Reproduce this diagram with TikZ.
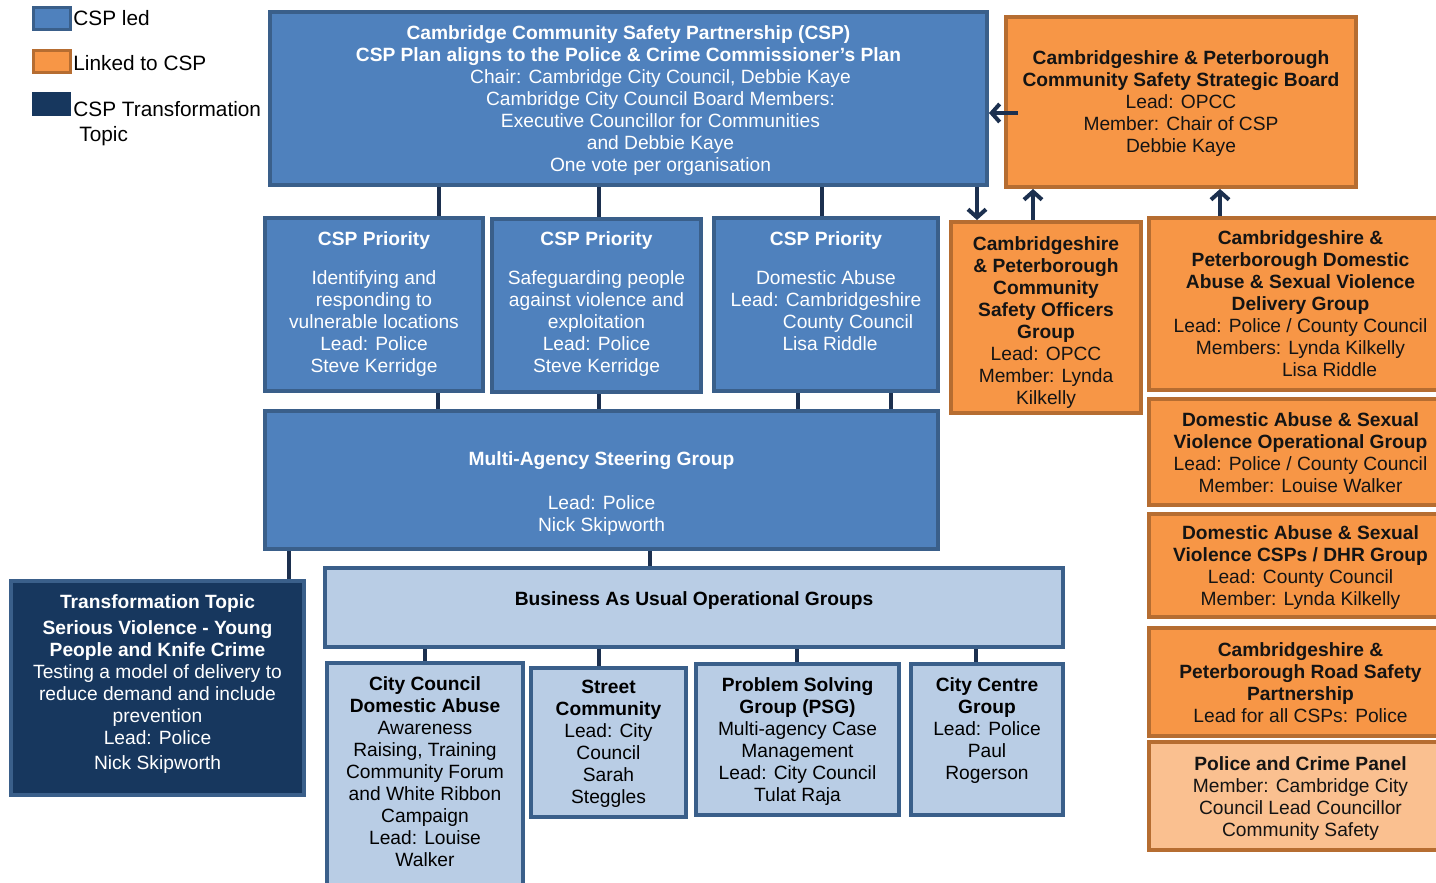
\documentclass[tikz,border=0pt]{standalone}
\usepackage{fontspec}
\setmainfont{Liberation Sans}
\usetikzlibrary{fit,arrows.meta}
\definecolor{cblue}{HTML}{4F81BD}
\definecolor{cbborder}{HTML}{3A5F8A}
\definecolor{corange}{HTML}{F79646}
\definecolor{coborder}{HTML}{B66D31}
\definecolor{clorange}{HTML}{FAC090}
\definecolor{cnavy}{HTML}{17375E}
\definecolor{clblue}{HTML}{B9CDE5}
\definecolor{cline}{HTML}{1C304F}
\definecolor{ctext}{HTML}{141414}
\begin{document}
\begin{tikzpicture}[x=0.5pt,y=-0.5pt,
  box/.style={draw, line width=2pt, inner sep=0pt},
  bluebox/.style={box, fill=cblue, draw=cbborder},
  orangebox/.style={box, fill=corange, draw=coborder},
  lorangebox/.style={box, fill=clorange, draw=coborder},
  navybox/.style={box, fill=cnavy, draw=cbborder},
  lbluebox/.style={box, fill=clblue, draw=cbborder},
  txt/.style={inner sep=0pt, align=center, font=\fontsize{9.6}{11}\selectfont},
  wtxt/.style={txt, text=white},
  btxt/.style={txt, text=ctext},
  legtext/.style={font=\fontsize{10.4}{12.5}\selectfont, text=black, inner sep=0pt, align=left},
  conn/.style={draw=cline, line width=2pt},
  arr/.style={conn, -{Straight Barb[length=4pt,width=9pt]}},
]
\useasboundingbox (0,0) rectangle (1436,883);

% legend
\node[draw=cbborder, fill=cblue, line width=1.5pt, inner sep=0pt, fit={(33,8) (70,30)}] (lg1) {};
\node[legtext, anchor=west] (lt1) at (73,18) {CSP led};
\node[draw=coborder, fill=corange, line width=1.5pt, inner sep=0pt, fit={(33,51) (70,73)}] (lg2) {};
\node[legtext, anchor=west] (lt2) at (73,63) {Linked to CSP};
\node[draw=cnavy, fill=cnavy, line width=1pt, inner sep=0pt, fit={(33,93) (70,115)}] (lg3) {};
\node[legtext, anchor=west] (lt3) at (73,124) {CSP Transformation\\\hspace*{3pt}Topic};

% boxes
\node[bluebox, fit={(270,12) (987,185)}] (csp) {};
\node[orangebox, fit={(1006,17) (1356,187)}] (sb) {};
\node[bluebox, fit={(265,218) (483,391)}] (p1) {};
\node[bluebox, fit={(492,219) (701,392)}] (p2) {};
\node[bluebox, fit={(714,218) (938,391)}] (p3) {};
\node[bluebox, fit={(265,411) (938,549)}] (masg) {};
\node[navybox, fit={(11,581) (304,795)}] (tt) {};
\node[lbluebox, fit={(325,568) (1063,647)}] (bau) {};
\node[lbluebox, fit={(327,663) (523,886)}] (cc) {};
\node[lbluebox, fit={(531,668) (686,817)}] (sc) {};
\node[lbluebox, fit={(696,664) (899,815)}] (psg) {};
\node[lbluebox, fit={(911,664) (1063,815)}] (ccg) {};
\node[orangebox, fit={(951,222) (1141,413)}] (off) {};
\node[orangebox, fit={(1149,218) (1452,390)}] (dvd) {};
\node[orangebox, fit={(1149,399) (1452,505)}] (dvo) {};
\node[orangebox, fit={(1149,514) (1452,617)}] (dvc) {};
\node[orangebox, fit={(1149,628) (1452,736)}] (rs) {};
\node[lorangebox, fit={(1149,742) (1452,850)}] (pcp) {};

% texts
\node[wtxt, yshift=-1pt] (csp-t) at (csp.center) {\textbf{Cambridge Community Safety Partnership (CSP)}\\
\textbf{CSP Plan aligns to the Police \& Crime Commissioner’s Plan}\\
\hspace*{32pt}Chair: Cambridge City Council, Debbie Kaye\\
\hspace*{32pt}Cambridge City Council Board Members:\\
\hspace*{32pt}Executive Councillor for Communities\\
\hspace*{32pt}and Debbie Kaye\\
\hspace*{32pt}One vote per organisation};

\node[btxt, yshift=-1pt] (sb-t) at (sb.center) {\textbf{Cambridgeshire \& Peterborough}\\
\textbf{Community Safety Strategic Board}\\
Lead: OPCC\\ Member: Chair of CSP\\ Debbie Kaye};

\node[wtxt, yshift=0pt] (p1-t) at (p1.center) {\textbf{CSP Priority}\\[8.5pt]
Identifying and\\ responding to\\ vulnerable locations\\ Lead: Police\\ Steve Kerridge};
\node[wtxt, yshift=0.5pt] (p2-t) at (p2.center) {\textbf{CSP Priority}\\[8.5pt]
Safeguarding people\\ against violence and\\ exploitation\\ Lead: Police\\ Steve Kerridge};
\node[wtxt, yshift=1pt] (p3-t) at (p3.center) {\textbf{CSP Priority}\\[8.5pt]
Domestic Abuse\\ Lead: Cambridgeshire\\ \hspace*{22pt}County Council\\ \hspace*{4pt}Lisa Riddle\\ \mbox{}};

\node[wtxt, yshift=-4.5pt] (masg-t) at (masg.center) {\mbox{}\\ \textbf{Multi-Agency Steering Group}\\[11pt]
Lead: Police\\ Nick Skipworth};

\node[wtxt, yshift=2pt] (tt-t) at (tt.center) {\textbf{Transformation Topic}\\[2pt]
\textbf{Serious Violence - Young}\\ \textbf{People and Knife Crime}\\
Testing a model of delivery to\\ reduce demand and include\\ prevention\\ Lead: Police\\[1.5pt] Nick Skipworth};

\node[btxt, text=black, yshift=-1pt] (bau-t) at (bau.center) {\textbf{Business As Usual Operational Groups}\\ \mbox{}};

\node[btxt, text=black, yshift=1.5pt] (cc-t) at (cc.center) {\textbf{City Council}\\ \textbf{Domestic Abuse}\\
Awareness\\ Raising, Training\\ Community Forum\\ and White Ribbon\\ Campaign\\ Lead: Louise\\ Walker};
\node[btxt, text=black, yshift=-0.5pt] (sc-t) at (sc.center) {\textbf{Street}\\ \textbf{Community}\\
Lead: City\\ Council\\ Sarah\\ Steggles};
\node[btxt, text=black, yshift=-1pt] (psg-t) at (psg.center) {\textbf{Problem Solving}\\ \textbf{Group (PSG)}\\
Multi-agency Case\\ Management\\ Lead: City Council\\ Tulat Raja};
\node[btxt, text=black, yshift=0pt] (ccg-t) at (ccg.center) {\textbf{City Centre}\\ \textbf{Group}\\
Lead: Police\\ Paul\\ Rogerson\\ \mbox{}};

\node[btxt, yshift=-2.5pt] (off-t) at (off.center) {\textbf{Cambridgeshire}\\ \textbf{\& Peterborough}\\
\textbf{Community}\\ \textbf{Safety Officers}\\ \textbf{Group}\\ Lead: OPCC\\ Member: Lynda\\ Kilkelly};
\node[btxt, yshift=0pt] (dvd-t) at (dvd.center) {\textbf{Cambridgeshire \&}\\ \textbf{Peterborough Domestic}\\
\textbf{Abuse \& Sexual Violence}\\ \textbf{Delivery Group}\\ Lead: Police / County Council\\
Members: Lynda Kilkelly\\ \hspace*{29pt}Lisa Riddle};
\node[btxt, yshift=-0.5pt] (dvo-t) at (dvo.center) {\textbf{Domestic Abuse \& Sexual}\\
\textbf{Violence Operational Group}\\ Lead: Police / County Council\\ Member: Louise Walker};
\node[btxt, yshift=-1pt] (dvc-t) at (dvc.center) {\textbf{Domestic Abuse \& Sexual}\\
\textbf{Violence CSPs / DHR Group}\\ Lead: County Council\\ Member: Lynda Kilkelly};
\node[btxt, yshift=-0.5pt] (rs-t) at (rs.center) {\textbf{Cambridgeshire \&}\\
\textbf{Peterborough Road Safety}\\ \textbf{Partnership}\\ Lead for all CSPs: Police};
\node[btxt, yshift=-1.5pt] (pcp-t) at (pcp.center) {\textbf{Police and Crime Panel}\\
Member: Cambridge City\\ Council Lead Councillor\\ Community Safety};

% connector x positions
\coordinate (x289) at (289,0);
\coordinate (x439) at (439,0);
\coordinate (x438) at (438,0);
\coordinate (x599) at (599,0);
\coordinate (x822) at (822,0);
\coordinate (x798) at (798,0);
\coordinate (x891) at (891,0);
\coordinate (x650) at (650,0);
\coordinate (x425) at (425,0);
\coordinate (x797) at (797,0);
\coordinate (x976) at (976,0);
\coordinate (x977) at (977,0);
\coordinate (x1033) at (1033,0);
\coordinate (x1220) at (1220,0);
\coordinate (a1s) at (1018,113);

\draw[conn] (csp.south -| x439) -- (p1.north -| x439);
\draw[conn] (csp.south -| x599) -- (p2.north -| x599);
\draw[conn] (csp.south -| x822) -- (p3.north -| x822);
\draw[conn] (p1.south -| x438) -- (masg.north -| x438);
\draw[conn] (p2.south -| x599) -- (masg.north -| x599);
\draw[conn] (p3.south -| x798) -- (masg.north -| x798);
\draw[conn] (p3.south -| x891) -- (masg.north -| x891);
\draw[conn] (masg.south -| x289) -- (tt.north -| x289);
\draw[conn] (masg.south -| x650) -- (bau.north -| x650);
\draw[conn] (bau.south -| x425) -- (cc.north -| x425);
\draw[conn] (bau.south -| x599) -- (sc.north -| x599);
\draw[conn] (bau.south -| x797) -- (psg.north -| x797);
\draw[conn] (bau.south -| x976) -- (ccg.north -| x976);

\draw[arr] (a1s) -- (a1s -| csp.east);
\draw[arr] (csp.south -| x977) -- (off.north -| x977);
\draw[arr] (off.north -| x1033) -- (sb.south -| x1033);
\draw[arr] (dvd.north -| x1220) -- (sb.south -| x1220);
\end{tikzpicture}
\end{document}
